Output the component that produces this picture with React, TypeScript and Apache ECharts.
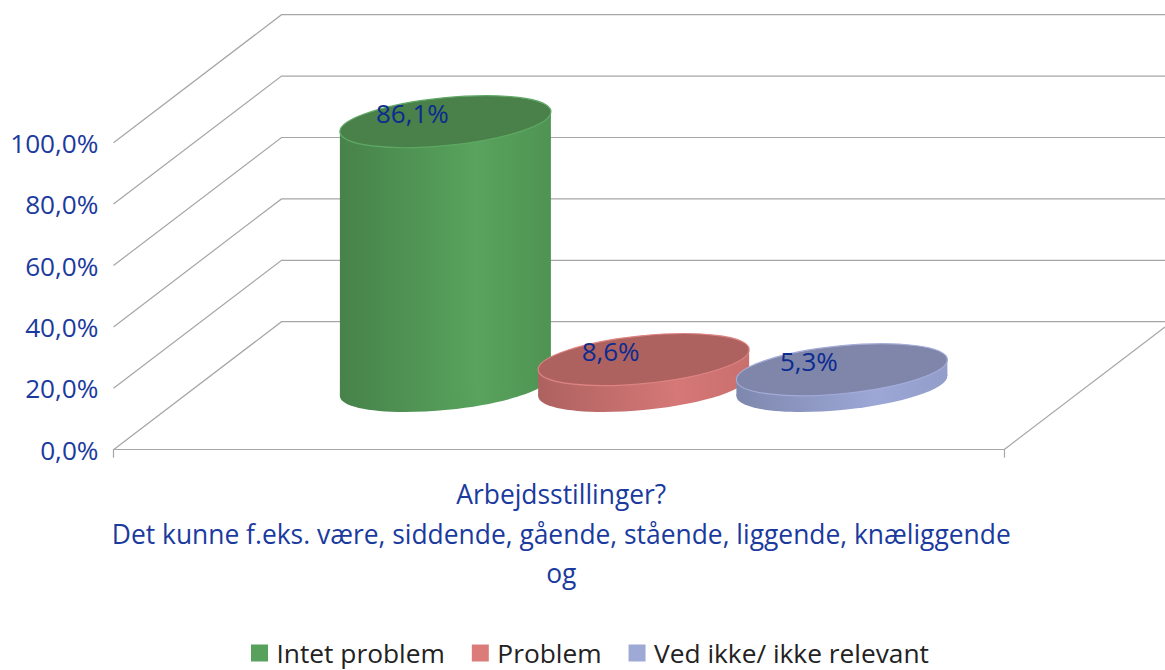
import React, { useEffect, useRef } from "react";
import * as echarts from "echarts";

const categories = [
  "Arbejdsstillinger?\nDet kunne f.eks. være, siddende, gående, stående, liggende, knæliggende\nog",
];
const seriesNames = ["Intet problem", "Problem", "Ved ikke/ ikke relevant"];
const seriesValues = [86.1, 8.6, 5.3];
const wallTicks = [0, 20, 40, 60, 80, 100];

const legendColors = ["#58a15c", "#dc7c7a", "#9fa9d6"];
const topColors = ["#4a8049", "#ad6260", "#7f86aa"];
const edgeColors = ["#5fa864", "#dd8483", "#a3acd8"];
const sideStops = [
  ["#47824a", "#58a35d", "#4f9353"],
  ["#ad6260", "#d57877", "#c96f6d"],
  ["#7e88ae", "#9ca7d6", "#929dc9"],
];

const TEXT = "#1b3a9e";
const LABEL = "#0c2b90";
const LINE = "#a6a6a6";
const FONT = '"Open Sans", sans-serif';
const DEPTH_X = 168;
const DEPTH_Y = 128;
const STEP = 198.25;
const HX = 105.5;
const TILT = 10;
const A = 106;
const B = 23.9;
const ROT = 0.0995;

export default function App() {
  const ref = useRef<HTMLDivElement>(null);
  useEffect(() => {
    if (!ref.current) return;
    const chart = echarts.init(ref.current, undefined, { renderer: "svg" });

    const wallSeries = {
      type: "custom",
      name: "walls",
      silent: true,
      z: 1,
      data: wallTicks.map((t) => [0, t]),
      encode: { x: 0, y: 1 },
      renderItem: (params: any, api: any) => {
        const y = api.coord([0, api.value(1)])[1];
        const x0 = params.coordSys.x;
        const x1 = x0 + params.coordSys.width;
        const children: any[] = [
          {
            type: "polyline",
            shape: {
              points: [
                [x0, y],
                [x0 + DEPTH_X, y - DEPTH_Y],
                [1165, y - DEPTH_Y],
              ],
            },
            style: { stroke: LINE, lineWidth: 1.2, fill: "none" },
          },
        ];
        if (api.value(1) === 0) {
          children.push({
            type: "line",
            shape: { x1, y1: y, x2: 1165, y2: y - (1165 - x1) * (DEPTH_Y / DEPTH_X) },
            style: { stroke: LINE, lineWidth: 1.2 },
          });
        }
        return { type: "group", children };
      },
    };

    const cylinders = seriesNames.map((name, i) => ({
      type: "custom",
      name,
      z: 2 + i,
      itemStyle: { color: legendColors[i] },
      data: [[0, seriesValues[i]]],
      encode: { x: 0, y: 1 },
      renderItem: (_params: any, api: any) => {
        const value = api.value(1);
        const front = api.coord([0, 0]);
        const top = api.coord([0, value]);
        const cx = front[0] + DEPTH_X / 2 + (i - 1) * STEP + 0.9;
        const base = front[1] - DEPTH_Y / 2 + 0.3;
        const cy = base - (front[1] - top[1]);
        const fill = new echarts.graphic.LinearGradient(0, 0, 1, 0, [
          { offset: 0, color: sideStops[i][0] },
          { offset: 0.65, color: sideStops[i][1] },
          { offset: 1, color: sideStops[i][2] },
        ]);
        return {
          type: "group",
          children: [
            {
              type: "ellipse",
              x: cx,
              y: base,
              rotation: ROT,
              shape: { cx: 0, cy: 0, rx: A, ry: B },
              style: { fill },
            },
            {
              type: "polygon",
              shape: {
                points: [
                  [cx - HX, cy + TILT],
                  [cx + HX, cy - TILT],
                  [cx + HX, base - TILT],
                  [cx - HX, base + TILT],
                ],
              },
              style: { fill },
            },
            {
              type: "ellipse",
              x: cx,
              y: cy,
              rotation: ROT,
              shape: { cx: 0, cy: 0, rx: A, ry: B },
              style: { fill: topColors[i], stroke: edgeColors[i], lineWidth: 1.2 },
            },
            {
              type: "text",
              style: {
                x: cx - 33,
                y: cy - 8.5,
                text: value.toFixed(1).replace(".", ",") + "%",
                font: `26px ${FONT}`,
                fill: LABEL,
                textAlign: "center",
                textVerticalAlign: "middle",
              },
            },
          ],
        };
      },
    }));

    chart.setOption({
      animation: false,
      backgroundColor: "#ffffff",
      textStyle: { fontFamily: FONT },
      grid: { left: 113.5, top: 142.7, width: 890.5, height: 307, containLabel: false },
      legend: {
        data: seriesNames,
        left: 251,
        top: 640,
        padding: 0,
        itemWidth: 17,
        itemHeight: 17,
        itemGap: 27,
        icon: "rect",
        selectedMode: false,
        textStyle: {
          fontSize: 26.3,
          color: "#222222",
          fontFamily: FONT,
          padding: [0, 0, 0, 3.5],
        },
      },
      xAxis: {
        type: "category",
        data: categories,
        axisLine: { show: true, lineStyle: { color: LINE, width: 1.2 } },
        axisTick: { show: true, length: 8, lineStyle: { color: LINE, width: 1.2 } },
        axisLabel: {
          color: TEXT,
          fontSize: 26.4,
          lineHeight: 39.5,
          fontFamily: FONT,
          margin: 25,
          interval: 0,
          padding: [0, 0, 0, 5],
        },
      },
      yAxis: {
        type: "value",
        min: 0,
        max: 100,
        interval: 20,
        axisLine: { show: false },
        axisTick: { show: false },
        splitLine: { show: false },
        axisLabel: {
          color: TEXT,
          fontSize: 26.2,
          margin: 15,
          fontFamily: FONT,
          formatter: (v: number) => v.toFixed(1).replace(".", ",") + "%",
        },
      },
      series: [wallSeries, ...cylinders],
    });
    return () => chart.dispose();
  }, []);
  return (
    <div
      ref={ref}
      style={{ position: "fixed", left: 0, top: 0, width: 1165, height: 670 }}
    />
  );
}
